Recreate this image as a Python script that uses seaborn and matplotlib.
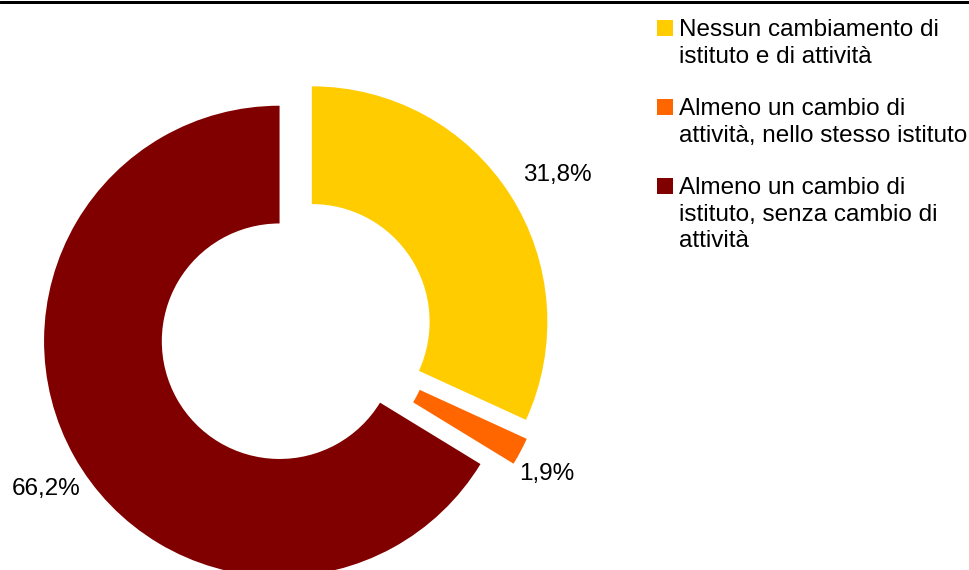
import matplotlib
matplotlib.use("Agg")
import matplotlib.pyplot as plt
from matplotlib.patches import Rectangle
from matplotlib.lines import Line2D
import seaborn as sns

# Data
categories = [
    "Nessun cambiamento di\nistituto e di attività",
    "Almeno un cambio di\nattività, nello stesso istituto",
    "Almeno un cambio di\nistituto, senza cambio di\nattività",
]
shares = [31.8, 1.9, 66.2]
colors = ["#FFCC00", "#FF6600", "#800000"]

sns.set_theme(style="white")
plt.rcParams["font.family"] = ["Liberation Sans", "DejaVu Sans"]

W, H = 970, 570
fig = plt.figure(figsize=(W / 100, H / 100), dpi=100)
ax = fig.add_axes([0, 0, 1, 1])

# Doughnut geometry (pixels)
cx, cy_top, R = 296, 332, 235.5
cy = H - cy_top

palette = sns.color_palette(colors)
wedges, _ = ax.pie(
    shares,
    colors=palette,
    startangle=90,
    counterclock=False,
    explode=[0.08, 0.08, 0.08],
    radius=1.0,
    wedgeprops=dict(width=0.5, linewidth=0, antialiased=True),
)
ax.set_aspect("auto")
ax.set_xlim(-cx / R, (W - cx) / R)
ax.set_ylim(-cy / R, (H - cy) / R)
ax.axis("off")

# Percentage labels placed around the ring
label_pos = [(1.108, 0.667), (1.066, -0.603), (-1.062, -0.667)]
for v, (lx, ly) in zip(shares, label_pos):
    ax.text(lx, ly, f"{v:.1f}%".replace(".", ","), ha="center", va="center",
            fontsize=17.5, color="#000000")

# Legend: swatch aligned with the first line of each entry
leg_x_sq, leg_x_txt, sq = 657, 679, 16
first_base, entry_step, line_step = 36, 79, 26.7
for i, (lab, col) in enumerate(zip(categories, palette)):
    base = first_base + entry_step * i
    fig.add_artist(Rectangle((leg_x_sq / W, (H - base) / H), sq / W, sq / H,
                             transform=fig.transFigure, facecolor=col,
                             edgecolor="none"))
    for j, line in enumerate(lab.split("\n")):
        fig.text(leg_x_txt / W, (H - (base + j * line_step)) / H, line,
                 ha="left", va="baseline", fontsize=17.5, color="#000000")

# Top border rule
fig.add_artist(Line2D([0, 1], [1 - 1.5 / H, 1 - 1.5 / H], color="black",
                      lw=3 * 72 / 100, transform=fig.transFigure))

fig.savefig("out.png", dpi=100, facecolor="white")
